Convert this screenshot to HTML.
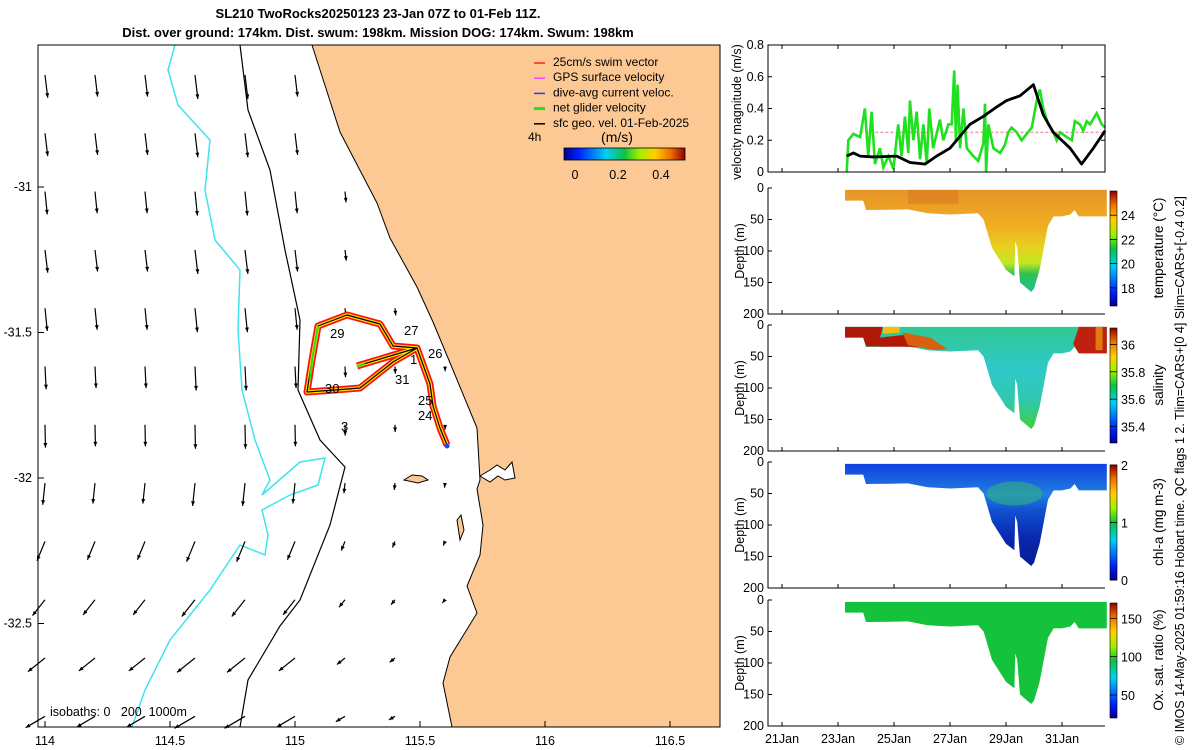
<!DOCTYPE html>
<html><head><meta charset="utf-8">
<style>
html,body{margin:0;padding:0;background:#fff;}
svg{display:block;font-family:"Liberation Sans","DejaVu Sans",sans-serif;}
</style></head>
<body>
<svg id="fig" width="1200" height="750" viewBox="0 0 1200 750" xmlns="http://www.w3.org/2000/svg">
<defs>
<linearGradient id="jetH" x1="0" x2="1" y1="0" y2="0">
<stop offset="0" stop-color="#00008f"/><stop offset="0.12" stop-color="#0020ff"/><stop offset="0.35" stop-color="#00d0f0"/><stop offset="0.5" stop-color="#10c040"/><stop offset="0.62" stop-color="#a0f000"/><stop offset="0.75" stop-color="#ffd000"/><stop offset="0.88" stop-color="#f07000"/><stop offset="1" stop-color="#900000"/>
</linearGradient>
<linearGradient id="jetV" x1="0" x2="0" y1="1" y2="0">
<stop offset="0" stop-color="#00008f"/><stop offset="0.12" stop-color="#0020ff"/><stop offset="0.35" stop-color="#00d0f0"/><stop offset="0.5" stop-color="#10c040"/><stop offset="0.62" stop-color="#a0f000"/><stop offset="0.75" stop-color="#ffd000"/><stop offset="0.88" stop-color="#f07000"/><stop offset="1" stop-color="#900000"/>
</linearGradient>
<linearGradient id="tG" gradientUnits="userSpaceOnUse" x1="0" y1="189" x2="0" y2="295">
<stop offset="0" stop-color="#e69528"/><stop offset="0.35" stop-color="#f0ad20"/><stop offset="0.55" stop-color="#e8d020"/><stop offset="0.7" stop-color="#c0e820"/><stop offset="0.8" stop-color="#30c050"/><stop offset="1" stop-color="#20c0a0"/>
</linearGradient>
<linearGradient id="sG" gradientUnits="userSpaceOnUse" x1="0" y1="326" x2="0" y2="432">
<stop offset="0" stop-color="#30c890"/><stop offset="0.4" stop-color="#30c8c8"/><stop offset="0.7" stop-color="#30c8b0"/><stop offset="1" stop-color="#40d030"/>
</linearGradient>
<linearGradient id="cG" gradientUnits="userSpaceOnUse" x1="0" y1="463" x2="0" y2="569">
<stop offset="0" stop-color="#1040e0"/><stop offset="0.3" stop-color="#2080e0"/><stop offset="0.45" stop-color="#1050d0"/><stop offset="0.7" stop-color="#0a28b0"/><stop offset="1" stop-color="#061c90"/>
</linearGradient>
</defs>

<g font-weight="bold" font-size="13" text-anchor="middle">
<text x="378" y="18">SL210 TwoRocks20250123 23-Jan 07Z to 01-Feb 11Z.</text>
<text x="378" y="37">Dist. over ground: 174km. Dist. swum: 198km. Mission DOG: 174km. Swum: 198km</text>
</g>

<g id="map"></g>
<g id="right"></g>

<text transform="translate(1184,745) rotate(-90)" font-size="12.5">© IMOS 14-May-2025 01:59:16 Hobart time. QC flags 1  2. Tlim=CARS+[0 4] Slim=CARS+[-0.4 0.2]</text>
</svg>

<script>
// ---------------- DATA ----------------
const greenDays = [23.31,23.37,23.55,23.79,23.96,24.08,24.20,24.32,24.50,24.62,24.80,24.98,25.15,25.27,25.39,25.51,25.57,25.69,25.81,25.93,26.05,26.17,26.26,26.40,26.64,26.76,26.94,27.06,27.15,27.21,27.27,27.36,27.48,27.60,27.83,28.01,28.19,28.25,28.29,28.37,28.55,28.79,28.96,29.08,29.20,29.38,29.56,29.74,29.92,30.10,30.21,30.33,30.51,30.69,30.81,30.93,31.17,31.35,31.46,31.64,31.76,31.88,32.00,32.24,32.42,32.54];
const greenVals = [0,0.2,0.24,0.22,0.4,0.1,0.38,0.05,0.15,0.03,0.1,0.02,0.3,0.1,0.35,0.12,0.45,0.2,0.38,0.08,0.3,0.05,0.4,0.15,0.33,0.2,0.3,0.3,0.64,0.2,0.55,0.15,0.4,0.15,0.1,0.07,0.18,0.43,0,0.3,0.15,0.12,0.17,0.25,0.28,0.25,0.2,0.24,0.28,0.45,0.52,0.4,0.3,0.25,0.2,0.25,0.22,0.2,0.32,0.3,0.26,0.32,0.3,0.37,0.3,0.28];
const blackDays = [23.31,23.55,23.79,24.26,25.10,25.57,26.11,26.52,27.0,27.24,27.71,28.19,28.67,29.02,29.5,29.98,30.33,30.69,31.29,31.70,32.12,32.54];
const blackVals = [0.1,0.12,0.1,0.095,0.1,0.06,0.05,0.1,0.15,0.2,0.3,0.35,0.41,0.45,0.48,0.55,0.36,0.25,0.15,0.05,0.15,0.26];
const swimRef = [0.25];
const velTicks = [0,0.2,0.4,0.6,0.8];
const dayTicks = [21,23,25,27,29,31];
const dayLabels = ["21Jan","23Jan","25Jan","27Jan","29Jan","31Jan"];
const depthTicks = [0,50,100,150,200];
const secDays = [23.25,23.9,24.0,25.5,26.2,27.0,28.0,28.2,28.5,29.0,29.3,29.33,29.4,29.5,29.9,30.0,30.2,30.5,30.7,31.0,31.3,31.45,31.6,32.6];
const secDepth = [20,20,35,34,40,42,40,50,95,130,140,85,95,150,165,160,130,60,45,45,42,35,45,45];
const tempTicks=[24,22,20,18], tempRange=[16.5,26];
const salTicks=[36,35.8,35.6,35.4], salRange=[35.28,36.12];
const chlTicks=[2,1,0], chlRange=[0,2];
const oxTicks=[150,100,50], oxRange=[20,170];
const mapLonTicks=[114,114.5,115,115.5,116,116.5];
const mapLatTicks=[-31,-31.5,-32,-32.5];
const cbTicks=[0,0.2,0.4];
const rowU=[0.12,0.12,0.1,0.12,0.1,0.05,0.02,-0.1,-0.35,-0.55,-0.75,-0.85];
const rowV=[-1,-1,-1,-1,-1,-1,-1,-0.95,-0.85,-0.7,-0.6,-0.5];
const colS=[0.95,0.9,0.9,1,1,0.9,0.45,0.3,0.2];

const NS="http://www.w3.org/2000/svg";
function mk(tag,attrs,parent){const e=document.createElementNS(NS,tag);for(const k in attrs)e.setAttribute(k,attrs[k]);if(parent)parent.appendChild(e);return e;}

// ---------------- MAP ----------------
const map=document.getElementById('map');
const MX0=38,MX1=720,MY0=45,MY1=727;
const lonX=l=>45+(l-114)*250, latY=l=>187+(-31-l)*291;
mk('rect',{x:MX0,y:MY0,width:MX1-MX0,height:MY1-MY0,fill:'#fff'},map);
const coast=[[312,45],[340,132],[377,203],[390,238],[417,287],[433,322],[453,370],[477,428],[480,480],[477,489],[483,525],[480,555],[467,586],[477,613],[450,657],[443,683],[452,727]];
let d='M'+coast.map(p=>p.join(',')).join(' L')+' L720,727 L720,45 Z';
const land=mk('path',{d:d,fill:'#fcc995',stroke:'#000','stroke-width':1},map);


const est=mk('path',{d:'M480,476 L490,470 L497,465 L505,470 L512,462 L515,478 L505,480 L498,476 L490,482 Z',fill:'#fff',stroke:'#000','stroke-width':1},map);


const isl=mk('path',{d:'M404,480 L412,475 L422,476 L428,480 L418,483 Z M457,520 L461,515 L464,530 L460,540 Z',fill:'#fcc995',stroke:'#000','stroke-width':1},map);


const iso200=mk('path',{d:'M240,45 L248,110 L270,170 L285,250 L300,320 L298,390 L320,440 L345,467 L330,525 L300,600 L280,626 L248,680 L240,727',fill:'none',stroke:'#000','stroke-width':1.2},map);


const iso1000=mk('path',{d:'M175,45 L168,70 L178,105 L210,140 L205,190 L215,240 L240,270 L238,330 L242,390 L255,440 L270,480 L262,495 L300,462 L325,458 L318,485 L290,495 L262,510 L268,535 L265,555 L240,545 L210,590 L170,640 L145,690 L132,727',fill:'none',stroke:'#3ee4ee','stroke-width':1.5},map);


function coastX(y){for(let i=0;i<coast.length-1;i++){const a=coast[i],b=coast[i+1];if(y>=a[1]&&y<=b[1])return a[0]+(b[0]-a[0])*(y-a[1])/(b[1]-a[1]);}return 450;}
for(let i=0;i<rowU.length;i++){for(let j=0;j<colS.length;j++){
  const x=45+j*50, y=75+i*58.3;
  if(x>coastX(y)-6) continue;
  const L=24*colS[j];
  const ex=x+rowU[i]*L, ey=y-rowV[i]*L;
  const g=mk('g',{},map);
  
  
  mk('line',{x1:x,y1:y,x2:ex,y2:ey,stroke:'#000','stroke-width':1.2},g);
  const ang=Math.atan2(ey-y,ex-x);
  const h=5;
  mk('path',{d:`M${ex},${ey} L${ex-h*Math.cos(ang-0.4)},${ey-h*Math.sin(ang-0.4)} L${ex-h*Math.cos(ang+0.4)},${ey-h*Math.sin(ang+0.4)} Z`,fill:'#000'},g);
}}
const trk='M447,445 L440,428 L433,406 L430,384 L417,348 L393,346 L380,324 L347,315 L318,326 L312,360 L307,392 L335,390 L360,388 L393,362 L417,348 M357,366 L417,348';
[['#ff1010',7,'track-swim-vectors'],['#ffe000',3.5,'track-yellow'],['#000',1.2,'track-line']].forEach(s=>{
  const p=mk('path',{d:trk,fill:'none',stroke:s[0],'stroke-width':s[1],'stroke-linejoin':'round'},map);
  
  
});
const gt=mk('path',{d:'M318,326 L312,360 L310,380 M357,366 L365,364',fill:'none',stroke:'#20e020','stroke-width':2},map);


mk('circle',{cx:447,cy:446,r:2.5,fill:'#2040ff'},map);
const dayLbl=[['29',330,338],['27',404,335],['26',428,358],['1',410,364],['31',395,384],['30',325,393],['25',418,405],['24',418,420],['3',341,431]];
dayLbl.forEach(l=>{const t=mk('text',{x:l[1],y:l[2],'font-size':13},map);t.textContent=l[0];
  
  });
const leg=[['#ff2020','25cm/s swim vector'],['#ff40ff','GPS surface velocity'],['#2040ff','dive-avg current veloc.'],['#20e020','net glider velocity'],['#000','sfc geo. vel. 01-Feb-2025']];
leg.forEach((l,i)=>{const g=mk('g',{},map);
  
  
  const y=62+i*15.2;
  mk('line',{x1:534,y1:y+1,x2:545,y2:y+1,stroke:l[0],'stroke-width':i==3?3:1.5},g);
  const t=mk('text',{x:553,y:y+4,'font-size':12},g);t.textContent=l[1];});
const t4=mk('text',{x:528,y:141,'font-size':12},map);t4.textContent='4h';


const tms=mk('text',{x:617,y:142,'font-size':14,'text-anchor':'middle'},map);tms.textContent='(m/s)';


const cb=mk('rect',{x:564,y:148,width:121,height:12,fill:'url(#jetH)',stroke:'#000','stroke-width':0.8},map);


cbTicks.forEach(v=>{const x=575+v/0.2*43;const t=mk('text',{x:x,y:179,'font-size':12.5,'text-anchor':'middle'},map);t.textContent=String(v);
  
  });
const isoT=mk('text',{x:50,y:716,'font-size':12.5},map);isoT.textContent='isobaths: 0\u00a0\u00a0\u00a0200\u00a0\u00a01000m';


mk('rect',{x:MX0,y:MY0,width:MX1-MX0,height:MY1-MY0,fill:'none',stroke:'#000','stroke-width':1},map);
mapLonTicks.forEach(l=>{const x=lonX(l);mk('line',{x1:x,y1:MY1,x2:x,y2:MY1-6,stroke:'#000'},map);
  const t=mk('text',{x:x,y:745,'font-size':12.5,'text-anchor':'middle'},map);t.textContent=String(l);
  
  });
mapLatTicks.forEach(l=>{const y=latY(l);mk('line',{x1:MX0,y1:y,x2:MX0+6,y2:y,stroke:'#000'},map);
  const t=mk('text',{x:32,y:y+4,'font-size':12.5,'text-anchor':'end'},map);t.textContent=String(l);
  
  });

// ---------------- RIGHT PANELS ----------------
const R=document.getElementById('right');
const PX0=768,PX1=1105;
const dx=t=>782+(t-21)*28;
function xTicks(g,y0,y1,labels,top){dayTicks.forEach((t,i)=>{const x=dx(t);
  mk('line',{x1:x,y1:y1,x2:x,y2:y1-4,stroke:'#000'},g);
  if(top) mk('line',{x1:x,y1:y0,x2:x,y2:y0+4,stroke:'#000'},g);
  if(labels){const tx=mk('text',{x:x,y:y1+17,'font-size':12.5,'text-anchor':'middle'},g);tx.textContent=dayLabels[i];
   
   }});}
const vg=mk('g',{},R);


const VY0=45,VY1=172;const vy=v=>VY1-(v/0.8)*(VY1-VY0);
const sw=mk('line',{x1:dx(23.8),y1:vy(swimRef[0]),x2:PX1,y2:vy(swimRef[0]),stroke:'#f0a0a0','stroke-width':1.5,'stroke-dasharray':'3,2'},vg);


const gl=mk('polyline',{points:greenDays.map((t,i)=>dx(t)+','+vy(greenVals[i])).join(' '),fill:'none',stroke:'#20e020','stroke-width':2.6},vg);


const bl=mk('polyline',{points:blackDays.map((t,i)=>dx(t)+','+vy(blackVals[i])).join(' '),fill:'none',stroke:'#000','stroke-width':2.8,'stroke-linejoin':'round'},vg);


mk('rect',{x:PX0,y:VY0,width:PX1-PX0,height:VY1-VY0,fill:'none',stroke:'#000'},vg);
velTicks.forEach(v=>{const y=vy(v);mk('line',{x1:PX0,y1:y,x2:PX0+4,y2:y,stroke:'#000'},vg);mk('line',{x1:PX1,y1:y,x2:PX1-4,y2:y,stroke:'#000'},vg);
  const t=mk('text',{x:PX0-4,y:y+4,'font-size':12.5,'text-anchor':'end'},vg);t.textContent=String(v);
  
  });
const vl=mk('text',{transform:`translate(741,112) rotate(-90)`,'font-size':12.5,'text-anchor':'middle'},vg);vl.textContent='velocity magnitude (m/s)';



const panels=[
 {top:188,fill:'url(#tG)',name:'temperature',label:'temperature (°C)',ticks:tempTicks,range:tempRange},
 {top:325,fill:'url(#sG)',name:'salinity',label:'salinity',ticks:salTicks,range:salRange},
 {top:462,fill:'url(#cG)',name:'chlorophyll',label:'chl-a (mg m-3)',ticks:chlTicks,range:chlRange},
 {top:600,fill:'#14c23c',name:'oxygen',label:'Ox. sat. ratio (%)',ticks:oxTicks,range:oxRange}];
panels.forEach((p,pi)=>{
  const g=mk('g',{},R);
  
  
  const H=126, y0=p.top, y1=p.top+H, dy=z=>y0+z/200*H;
  let pts=secDays.map(t=>dx(t)+','+dy(3)).join(' ')+' '+secDays.slice().reverse().map((t,i)=>dx(t)+','+dy(secDepth[secDays.length-1-i])).join(' ');
  const poly=mk('polygon',{points:pts,fill:p.fill},g);
  
  
  if(pi===0){mk('rect',{x:dx(25.5),y:dy(3),width:dx(27.3)-dx(25.5),height:dy(25)-dy(3),fill:'#d87a20',opacity:0.6},g);}
  if(pi===1){
    mk('path',{d:`M${dx(23.25)},${dy(3)} L${dx(24.6)},${dy(3)} L${dx(24.5)},${dy(20)} L${dx(25.5)},${dy(15)} L${dx(26.2)},${dy(25)} L${dx(26.6)},${dy(40)} L${dx(26)},${dy(35)} L${dx(24)},${dy(34)} L${dx(23.9)},${dy(20)} L${dx(23.25)},${dy(20)} Z`,fill:'#b01808'},g);
    mk('path',{d:`M${dx(25.3)},${dy(12)} L${dx(26.3)},${dy(20)} L${dx(26.9)},${dy(38)} L${dx(26.5)},${dy(40)} L${dx(25.5)},${dy(32)} Z`,fill:'#d86010'},g);
    mk('path',{d:`M${dx(24.6)},${dy(3)} L${dx(25.2)},${dy(3)} L${dx(25.2)},${dy(12)} L${dx(24.6)},${dy(14)} Z`,fill:'#f0c010'},g);
    mk('path',{d:`M${dx(31.6)},${dy(3)} L${dx(32.6)},${dy(3)} L${dx(32.6)},${dy(45)} L${dx(31.6)},${dy(45)} L${dx(31.4)},${dy(30)} Z`,fill:'#c02010'},g);
    mk('rect',{x:dx(32.2),y:dy(3),width:dx(32.45)-dx(32.2),height:dy(40)-dy(3),fill:'#e07a10'},g);
  }
  if(pi===2){mk('ellipse',{cx:dx(29.3),cy:dy(50),rx:28,ry:12,fill:'#30b080',opacity:0.6},g);}
  mk('path',{d:`M${PX0},${y0} L${PX0},${y1} L${PX1},${y1}`,fill:'none',stroke:'#000'},g);
  depthTicks.forEach(z=>{const y=dy(z);mk('line',{x1:PX0,y1:y,x2:PX0+4,y2:y,stroke:'#000'},g);
    const t=mk('text',{x:PX0-4,y:y+4,'font-size':12.5,'text-anchor':'end'},g);t.textContent=String(z);
    
    });
  xTicks(g,y0,y1,pi===3,false);
  const dl=mk('text',{transform:`translate(744,${y0+H/2}) rotate(-90)`,'font-size':12.5,'text-anchor':'middle'},g);dl.textContent='Depth (m)';
  
  
  const cy0=y0+3, cy1=y0+118;
  const c=mk('rect',{x:1110,y:cy0,width:7,height:cy1-cy0,fill:'url(#jetV)',stroke:'#000','stroke-width':0.6},g);
  
  
  p.ticks.forEach(v=>{const y=cy1-(v-p.range[0])/(p.range[1]-p.range[0])*(cy1-cy0);
    mk('line',{x1:1110,y1:y,x2:1117,y2:y,stroke:'#000','stroke-width':0.8},g);
    const t=mk('text',{x:1121,y:y+5,'font-size':12.5},g);t.textContent=String(v);
    
    });
  const cl=mk('text',{transform:`translate(1163,${y0+60}) rotate(-90)`,'font-size':13.5,'text-anchor':'middle'},g);cl.textContent=p.label;
  
  
});
xTicks(vg,VY0,VY1,false,true);
</script>
</body></html>
